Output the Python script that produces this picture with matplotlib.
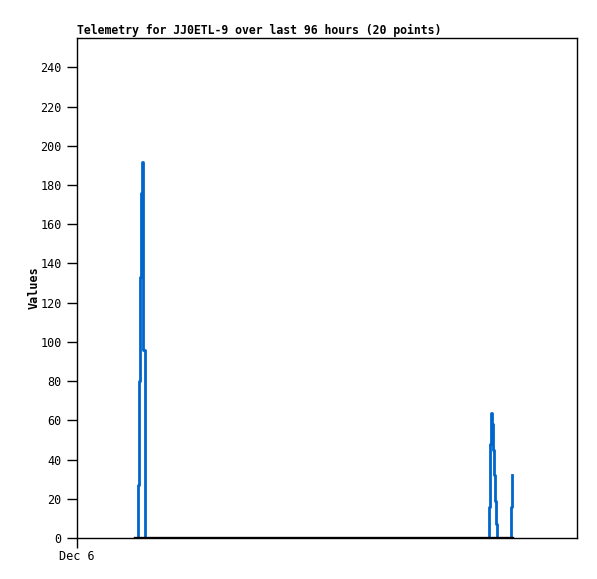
import matplotlib
matplotlib.use('Agg')
import matplotlib.pyplot as plt

# hours since Dec 6 00:00
hours = [11.6, 11.71, 11.9, 12.1, 12.29, 12.42, 12.61, 12.73, 13.0, 13.11,
         79.1, 79.3, 79.5, 79.68, 79.81, 80.06, 80.26, 80.45, 80.58,
         83.27, 83.52]
values = [0, 27, 80, 133, 176, 192, 160, 96, 32, 0,
          16, 48, 64, 58, 45, 32, 19, 7, 0,
          16, 32]

y_ticks = list(range(0, 241, 20))
x_tick_labels = ['Dec 6']

plt.rcParams['font.family'] = ['DejaVu Sans Mono']

fig = plt.figure(figsize=(5.97, 5.79), dpi=100)
ax = fig.add_axes([77 / 597, 41 / 579, 500 / 597, 500 / 579])

ax.plot(hours, values, drawstyle='steps-post', color='#0066cc', lw=2)
ax.plot([hours[0] - 0.4, hours[-1]], [0, 0], color='black', lw=2.4)

ax.set_xlim(0, 96)
ax.set_ylim(0, 255)
ax.set_yticks(y_ticks)
ax.set_yticklabels([str(v) for v in y_ticks], fontsize=8.5)
ax.set_xticks([0])
ax.set_xticklabels(x_tick_labels, fontsize=8.5, ha='center')
ax.tick_params(axis='y', length=7, width=1, pad=4)
ax.tick_params(axis='x', length=7, width=1, pad=2)

for s in ax.spines.values():
    s.set_linewidth(1)

ax.set_ylabel('Values', fontsize=8.5, fontweight='bold', labelpad=0)
ax.set_title('Telemetry for JJ0ETL-9 over last 96 hours (20 points)',
             fontsize=8.3, fontweight='bold', loc='left', pad=3)

fig.savefig('out.png', dpi=100)
